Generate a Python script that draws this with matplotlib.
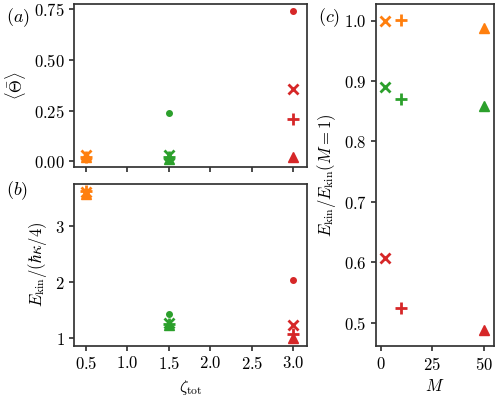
import numpy as np
import matplotlib
matplotlib.use('Agg')
from matplotlib import pyplot as plt

plt.rcParams['font.family'] = 'serif'
plt.rcParams['font.serif'] = ['cmr10']
plt.rcParams['mathtext.fontset'] = 'cm'
plt.rcParams['axes.formatter.use_mathtext'] = True
plt.rcParams['font.size'] = 12
plt.rcParams['axes.edgecolor'] = '#333333'
plt.rcParams['axes.linewidth'] = 1.25
plt.rcParams['xtick.color'] = '#333333'
plt.rcParams['ytick.color'] = '#333333'
plt.rcParams['xtick.labelcolor'] = 'black'
plt.rcParams['ytick.labelcolor'] = 'black'
plt.rcParams['xtick.major.width'] = 1.25
plt.rcParams['ytick.major.width'] = 1.25

# donnees
zeta = [0.5, 1.5, 3.0]
colors = ['tab:orange', 'tab:green', 'tab:red']
M_values = [1, 2, 10, 50]
markers = ['o', 'x', '+', '^']
msizes = [4, 7, 8, 7]

# <Theta> pour M = 1, 2, 10, 50 (lignes) et zeta = 0.5, 1.5, 3.0 (colonnes)
theta = [[0.02, 0.24, 0.74],
         [0.03, 0.03, 0.355],
         [0.02, 0.02, 0.21],
         [0.02, 0.01, 0.02]]

# E_kin/(hbar kappa/4)
ekin = [[3.62, 1.44, 2.05],
        [3.62, 1.28, 1.245],
        [3.63, 1.25, 1.07],
        [3.58, 1.235, 1.0]]

# E_kin/E_kin(M=1) pour M = 2, 10, 50
M_ratio = [2, 10, 50]
ratio = [[1.0, 0.89, 0.607],
         [1.002, 0.87, 0.524],
         [0.988, 0.858, 0.487]]

fig = plt.figure(figsize=(4.98, 3.99), dpi=100)
ax_a = fig.add_axes([0.149, 0.582, 0.467, 0.408])
ax_b = fig.add_axes([0.149, 0.134, 0.467, 0.405])
ax_c = fig.add_axes([0.756, 0.133, 0.235, 0.857])

for j in range(len(zeta)):
    for i in range(len(M_values)):
        kw = dict(color=colors[j], marker=markers[i], markersize=msizes[i], linestyle='none')
        if markers[i] in ['x', '+']:
            kw['markeredgewidth'] = 2
        ax_a.plot(zeta[j], theta[i][j], **kw)
        ax_b.plot(zeta[j], ekin[i][j], **kw)

for j in range(len(zeta)):
    for i in range(len(M_ratio)):
        kw = dict(color=colors[j], marker=markers[i + 1], markersize=msizes[i + 1], linestyle='none')
        if markers[i + 1] in ['x', '+']:
            kw['markeredgewidth'] = 2
        ax_c.plot(M_ratio[i], ratio[i][j], **kw)

for ax in [ax_a, ax_b]:
    ax.set_xlim(0.36, 3.16)
    ax.set_xticks([0.5, 1.0, 1.5, 2.0, 2.5, 3.0])
ax_a.set_xticklabels([])
ax_a.set_yticks([0.0, 0.25, 0.5, 0.75])
ax_a.set_ylabel(r'$\langle\bar{\Theta}\rangle$')
ax_b.set_yticks([1, 2, 3])
ax_b.set_ylabel(r'$E_{\rm kin}/(\hbar\kappa/4)$')
ax_b.set_xlabel(r'$\zeta_{\rm tot}$')

ax_c.set_xlim(-2, 54.5)
ax_c.set_xticks([0, 25, 50])
ax_c.set_yticks([0.5, 0.6, 0.7, 0.8, 0.9, 1.0])
ax_c.set_ylabel(r'$E_{\rm kin}/E_{\rm kin}(M=1)$')
ax_c.set_xlabel(r'$M$')

fig.text(0.012, 0.945, r'$(a)$', fontsize=13)
fig.text(0.012, 0.512, r'$(b)$', fontsize=13)
fig.text(0.638, 0.945, r'$(c)$', fontsize=13)

plt.savefig('out.png', dpi=100)
